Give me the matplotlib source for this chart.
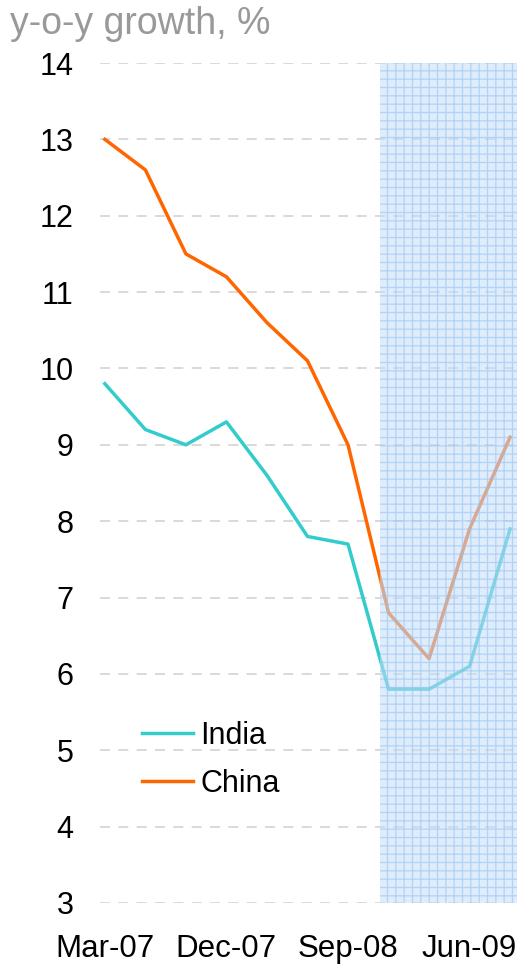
import matplotlib.pyplot as plt
import numpy as np

plt.rcParams['font.family'] = ['Liberation Sans', 'DejaVu Sans']
plt.rcParams['hatch.linewidth'] = 0.9

quarters = ['Mar-07', 'Jun-07', 'Sep-07', 'Dec-07', 'Mar-08', 'Jun-08',
            'Sep-08', 'Dec-08', 'Mar-09', 'Jun-09', 'Sep-09']
india = [9.8, 9.2, 9.0, 9.3, 8.6, 7.8, 7.7, 5.8, 5.8, 6.1, 7.9]
china = [13.0, 12.6, 11.5, 11.2, 10.6, 10.1, 9.0, 6.8, 6.2, 7.9, 9.1]
tick_idx = [0, 3, 6, 9]
shade_from, shade_to = 6.8, 10.17

fig = plt.figure(figsize=(5.19, 9.67), dpi=100)
ax = fig.add_axes([100/519, 1-903/967, 417/519, 840/967])
x = np.arange(len(quarters))

ax.plot(x, india, color='#33CCCC', lw=2.5, label='India', zorder=3)
ax.plot(x, china, color='#FF6600', lw=2.5, label='China', zorder=3)

ax.axvspan(shade_from, shade_to, facecolor='#c4defa', alpha=0.55, edgecolor='#8fbff0',
           hatch='++', lw=0, zorder=4)

ax.set_xlim(-0.12, 10.17)
ax.set_ylim(3, 14)
ax.set_yticks(range(3, 15))
ax.set_xticks(tick_idx)
ax.set_xticklabels([quarters[i] for i in tick_idx])
ax.tick_params(axis='both', length=0, colors='black')
ax.tick_params(axis='y', pad=19, labelsize=22)
ax.tick_params(axis='x', pad=22, labelsize=22.5)
ax.grid(axis='y', color='#d3d3d3', ls=(0, (6, 5)), lw=1.2, zorder=1)
ax.set_axisbelow(True)
for s in ax.spines.values():
    s.set_visible(False)

leg = ax.legend(loc='upper left', bbox_to_anchor=(0.035, 0.25), frameon=False,
                fontsize=22, handlelength=1.65, handletextpad=0.25, labelspacing=0.6)

fig.text(10/519, 1-6/967, 'y-o-y growth, %', ha='left', va='top', fontsize=27, color='#999999')

fig.savefig('out.png', dpi=100)
